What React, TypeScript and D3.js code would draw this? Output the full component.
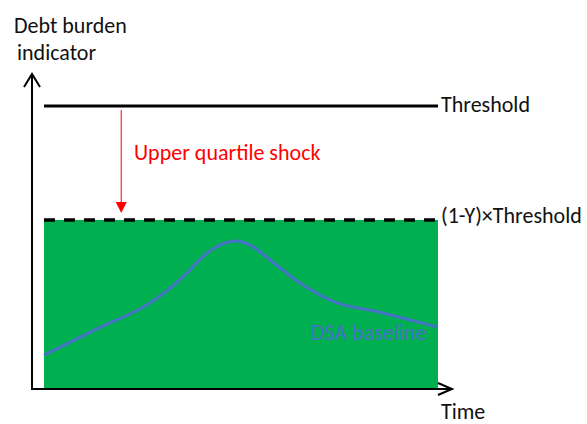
import React from 'react';
import * as d3 from 'd3';

// Schematic values (time 0..100, indicator 0..100 = threshold)
const timePoints = [0, 14.2, 26.9, 35.3, 41.4, 48.5, 52.3, 57.4, 65.0, 72.6, 86.0, 100];
const baselineValues = [11.7, 21.5, 30.1, 39.4, 47.9, 52.1, 50.7, 45.4, 37.2, 31.2, 26.6, 21.6];
const thresholdValue = 100;
const reducedThresholdValue = 59.6;
const labels = {
  yTitle: ['Debt burden', 'indicator'],
  xTitle: 'Time',
  threshold: 'Threshold',
  reduced: '(1-Y)×Threshold',
  shock: 'Upper quartile shock',
  baseline: 'DSA baseline',
};

const width = 587;
const height = 424;
const font = 'Carlito, Lato, "Open Sans", sans-serif';
const fs = 22;

export default function App() {
  const x = d3.scaleLinear().domain([0, 100]).range([44, 438]);
  const y = d3.scaleLinear().domain([0, 100]).range([388, 106]);

  const axisX = 32;
  const axisY = y(0) + 1;
  const yTop = 74;
  const xEnd = 452;

  const line = d3.line<number>()
    .x((d, i) => x(timePoints[i]))
    .y((d) => y(d))
    .curve(d3.curveMonotoneX);

  const shockX = x(19.6);

  return (
    <svg width={width} height={height} style={{ position: 'absolute', left: 0, top: 0 }} fontFamily={font}>
      <rect width={width} height={height} fill="white" />
      {/* green zone below reduced threshold */}
      <rect x={x(0)} y={y(reducedThresholdValue)} width={x(100) - x(0)} height={y(0) - y(reducedThresholdValue)} fill="#00B050" />
      <path d={line(baselineValues) || ''} fill="none" stroke="#4472C4" strokeWidth={3} />

      {/* threshold lines */}
      <line x1={x(0)} x2={x(100)} y1={y(thresholdValue)} y2={y(thresholdValue)} stroke="black" strokeWidth={3} />
      <line x1={x(0)} x2={x(100)} y1={y(reducedThresholdValue)} y2={y(reducedThresholdValue)} stroke="black" strokeWidth={3.5} strokeDasharray="11,9" />

      {/* shock arrow */}
      <line x1={shockX} x2={shockX} y1={y(thresholdValue) + 4} y2={y(reducedThresholdValue) - 16} stroke="red" strokeWidth={1} />
      <path d={`M${shockX - 5.5},${y(reducedThresholdValue) - 18} L${shockX + 5.5},${y(reducedThresholdValue) - 18} L${shockX},${y(reducedThresholdValue) - 7} Z`} fill="red" />

      {/* axes */}
      <line x1={axisX} x2={axisX} y1={yTop} y2={axisY} stroke="black" strokeWidth={2} />
      <path d={`M${axisX - 8},${yTop + 13} L${axisX},${yTop} L${axisX + 8},${yTop + 13}`} fill="none" stroke="black" strokeWidth={2} />
      <line x1={axisX - 1} x2={xEnd} y1={axisY} y2={axisY} stroke="black" strokeWidth={2} />
      <path d={`M${xEnd - 14},${axisY - 6} L${xEnd},${axisY} L${xEnd - 14},${axisY + 6}`} fill="none" stroke="black" strokeWidth={2} />

      {/* text */}
      <text x={14} y={33} fontSize={fs} fill="#111">{labels.yTitle[0]}</text>
      <text x={17} y={60} fontSize={fs} fill="#111">{labels.yTitle[1]}</text>
      <text x={441} y={419} fontSize={fs} fill="#111">{labels.xTitle}</text>
      <text x={441} y={112} fontSize={fs} fill="#111">{labels.threshold}</text>
      <text x={441} y={223} fontSize={fs} fill="#111">{labels.reduced}</text>
      <text x={134} y={160} fontSize={fs} fill="red">{labels.shock}</text>
      <text x={311} y={340} fontSize={fs} fill="#4472C4">{labels.baseline}</text>
    </svg>
  );
}
